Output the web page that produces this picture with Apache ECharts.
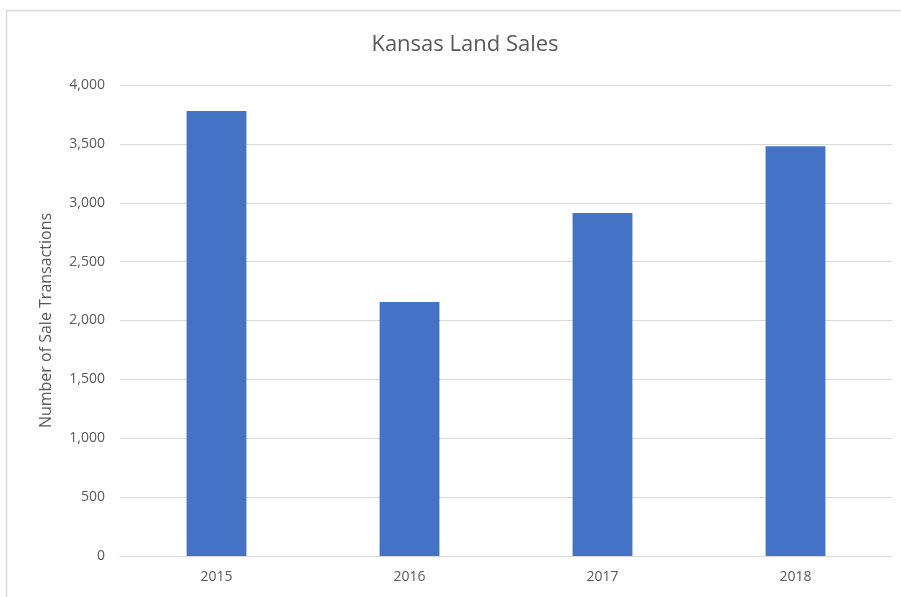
<!DOCTYPE html>
<html>
<head>
<meta charset="utf-8">
<script src="https://cdn.jsdelivr.net/npm/echarts@6/dist/echarts.min.js"></script>
<style>
html,body{margin:0;padding:0;background:#fff;}
#chart{width:901px;height:597px;}
</style>
</head>
<body>
<div id="chart"></div>
<script>
const categories = ['2015', '2016', '2017', '2018'];
const saleTransactions = [3779, 2157, 2913, 3480];
const chartTitle = 'Kansas Land Sales';
const yAxisTitle = 'Number of Sale Transactions';

const chart = echarts.init(document.getElementById('chart'), null, {renderer: 'canvas'});
const fontFamily = '"Open Sans", "Noto Sans", sans-serif';
chart.setOption({
  animation: false,
  backgroundColor: '#ffffff',
  graphic: [{
    type: 'rect',
    shape: {x: 6.5, y: 10.5, width: 1000, height: 1000},
    style: {fill: 'none', stroke: '#d9d9d9', lineWidth: 1.5},
    silent: true
  }],
  title: {
    text: chartTitle,
    left: 460,
    top: 29,
    textAlign: 'center',
    textStyle: {fontFamily: fontFamily, fontSize: 22, fontWeight: 'normal', color: '#595959'}
  },
  grid: {left: 120, right: 9, top: 85, bottom: 41, containLabel: false},
  xAxis: {
    type: 'category',
    data: categories,
    axisLine: {lineStyle: {color: '#d9d9d9', width: 1}},
    axisTick: {show: false},
    axisLabel: {color: '#595959', fontFamily: fontFamily, fontSize: 14, margin: 14}
  },
  yAxis: {
    type: 'value',
    min: 0,
    max: 4000,
    interval: 500,
    name: yAxisTitle,
    nameLocation: 'middle',
    nameGap: 66,
    nameTextStyle: {color: '#595959', fontFamily: fontFamily, fontSize: 16},
    axisLine: {show: false},
    axisTick: {show: false},
    splitLine: {lineStyle: {color: '#d9d9d9', width: 1}},
    axisLabel: {
      color: '#595959', fontFamily: fontFamily, fontSize: 14, margin: 15,
      formatter: v => v.toLocaleString('en-US')
    }
  },
  series: [{
    type: 'bar',
    data: saleTransactions,
    barWidth: '31%',
    itemStyle: {color: '#4472c4'}
  }]
});
</script>
</body>
</html>
